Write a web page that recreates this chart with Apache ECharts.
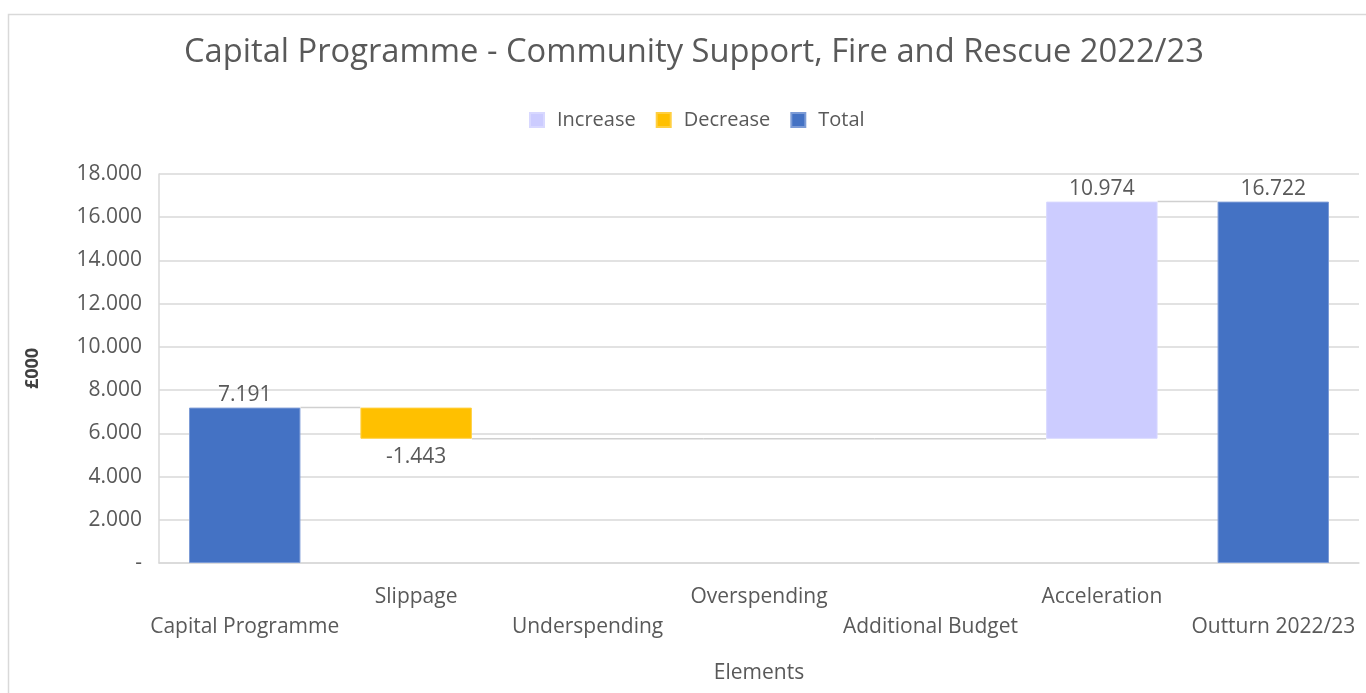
<!DOCTYPE html>
<html>
<head>
<meta charset="utf-8">
<script src="https://cdn.jsdelivr.net/npm/echarts@6/dist/echarts.min.js"></script>
<style>
html,body{margin:0;padding:0;background:#fff;}
#chart{width:1366px;height:693px;}
</style>
</head>
<body>
<div id="chart"></div>
<script>
const titleText = 'Capital Programme - Community Support, Fire and Rescue 2022/23';
const categories = ['Capital Programme', 'Slippage', 'Underspending', 'Overspending', 'Additional Budget', 'Acceleration', 'Outturn 2022/23'];
const values = [7.191, -1.443, 0, 0, 0, 10.974, 16.722];
const isTotal = [true, false, false, false, false, false, true];
const legendNames = ['Increase', 'Decrease', 'Total'];
const yTicks = { min: 0, max: 18, interval: 2 };

const FONT = 'Open Sans';
const TXT = '#595959';

// derive stacked waterfall pieces
const base = [], inc = [], dec = [], tot = [], levels = [];
let run = 0;
for (let i = 0; i < values.length; i++) {
  const v = values[i];
  if (isTotal[i]) {
    run = v;
    base.push(0); inc.push('-'); dec.push('-'); tot.push(v);
  } else {
    const start = run, end = run + v;
    run = end;
    base.push(Math.min(start, end));
    inc.push(v > 0 ? v : '-');
    dec.push(v < 0 ? -v : '-');
    tot.push('-');
  }
  levels.push(run);
}

const chart = echarts.init(document.getElementById('chart'));
const lbl = (pos, dist) => ({
  show: true, position: pos, color: TXT, fontFamily: FONT, fontSize: 21, distance: dist,
  formatter: p => {
    const v = values[p.dataIndex];
    return v === 0 ? '' : v.toFixed(3);
  }
});

chart.setOption({
  animation: false,
  backgroundColor: '#fff',
  graphic: [{
    type: 'rect', shape: { x: 8.5, y: 14.5, width: 1400, height: 700 },
    style: { fill: 'none', stroke: '#d9d9d9', lineWidth: 1.5 }, silent: true, z: -10
  }],
  title: {
    text: titleText, left: 179, top: 31,
    textStyle: { fontFamily: FONT, fontSize: 32.7, fontWeight: 'normal', color: TXT }
  },
  legend: {
    data: legendNames, top: 105, left: 524, itemWidth: 14, itemHeight: 14, itemGap: 20,
    icon: 'rect',
    textStyle: { fontFamily: FONT, fontSize: 20, color: TXT, padding: [0, 0, 0, 8] }
  },
  grid: { left: 159, right: 7, top: 174, bottom: 130, containLabel: false },
  xAxis: {
    type: 'category', data: categories,
    name: 'Elements', nameLocation: 'middle', nameGap: 100,
    nameTextStyle: { fontFamily: FONT, fontSize: 21, color: TXT },
    axisLine: { show: true, lineStyle: { color: '#d9d9d9', width: 1.5 } },
    axisTick: { show: false },
    axisLabel: {
      interval: 0, color: TXT, fontFamily: FONT, fontSize: 21, margin: 19, lineHeight: 30,
      formatter: (v, i) => (i % 2 === 0 ? '\n' + v : v)
    }
  },
  yAxis: {
    type: 'value', min: yTicks.min, max: yTicks.max, interval: yTicks.interval,
    name: '£000', nameLocation: 'middle', nameGap: 117, nameRotate: 90,
    nameTextStyle: { fontFamily: FONT, fontSize: 18, fontWeight: 'bold', color: '#404040' },
    axisLine: { show: true, lineStyle: { color: '#d9d9d9', width: 1.5 } },
    axisTick: { show: false },
    splitLine: { lineStyle: { color: '#d9d9d9', width: 1.5 } },
    axisLabel: {
      color: TXT, fontFamily: FONT, fontSize: 21, margin: 17,
      formatter: v => v === 0 ? '-' : v.toFixed(3)
    }
  },
  series: [
    { name: 'base', type: 'bar', stack: 'w', data: base, barWidth: '65%',
      itemStyle: { color: 'transparent' }, silent: true, label: { show: false } },
    { name: 'Increase', type: 'bar', stack: 'w', data: inc,
      itemStyle: { color: '#CCCCFF', borderColor: '#d8d8ff', borderWidth: 1 }, label: lbl('top', 2) },
    { name: 'Decrease', type: 'bar', stack: 'w', data: dec,
      itemStyle: { color: '#FFC000', borderColor: '#ffcf40', borderWidth: 1 }, label: lbl('bottom', 8) },
    { name: 'Total', type: 'bar', stack: 'w', data: tot,
      itemStyle: { color: '#4472C4', borderColor: '#7c9bd6', borderWidth: 1 }, label: lbl('top', 2) },
    { name: 'connectors', type: 'custom', z: 1, silent: true,
      data: levels.map((l, i) => [i, l]),
      renderItem: (params, api) => {
        const i = api.value(0);
        if (i >= categories.length - 1) return null;
        const lvl = api.value(1);
        const half = api.size([1, 0])[0] * 0.65 / 2;
        const p0 = api.coord([i, lvl]);
        const p1 = api.coord([i + 1, lvl]);
        const x0 = (!isTotal[i] && values[i] === 0) ? p0[0] - half : p0[0] + half;
        const x1 = p1[0] - half;
        return { type: 'line', shape: { x1: x0, y1: p0[1], x2: x1, y2: p1[1] },
          style: { stroke: '#d0d0d0', lineWidth: 1.5 } };
      }
    }
  ]
});
</script>
</body>
</html>
